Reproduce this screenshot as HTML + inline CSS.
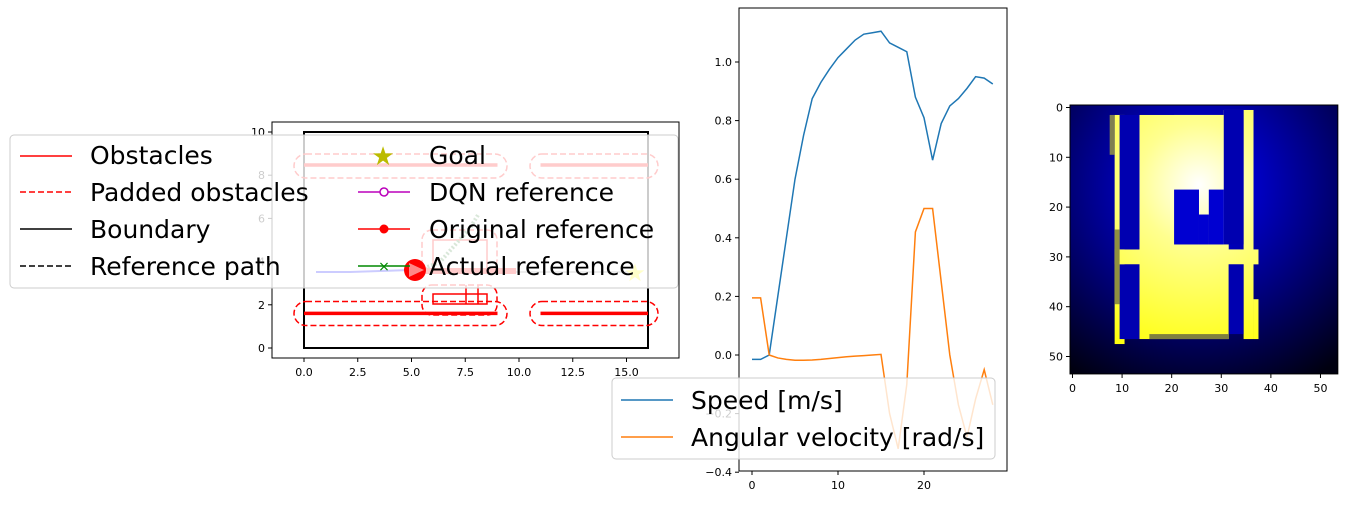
<!DOCTYPE html>
<html><head><meta charset="utf-8"><style>
html,body{margin:0;padding:0;background:#fff;width:1347px;height:505px;overflow:hidden}
svg{position:absolute;left:0;top:0}
text{font-family:"DejaVu Sans","Liberation Sans",sans-serif;}
</style></head><body>
<svg id="s" width="1347" height="505" viewBox="0 0 1347 505">
<g id="map">
<rect x="272" y="122" width="407" height="236" fill="#fff" stroke="#000" stroke-width="1"/>
<g id="mapTicks"></g>
<rect x="304" y="132" width="344" height="216" fill="none" stroke="#000" stroke-width="2"/>
<g>
<line x1="304" y1="313.4" x2="497.5" y2="313.4" stroke="#f00" stroke-width="3.5"/>
<line x1="540.5" y1="313.4" x2="648" y2="313.4" stroke="#f00" stroke-width="3.5"/>
<rect x="294" y="301.5" width="213" height="24" rx="12" fill="none" stroke="#f00" stroke-width="1.5" stroke-dasharray="6,3"/>
<rect x="530" y="301.5" width="128" height="24" rx="12" fill="none" stroke="#f00" stroke-width="1.5" stroke-dasharray="6,3"/>
<rect x="422" y="285" width="75" height="30" rx="10" fill="none" stroke="#f00" stroke-width="1.5" stroke-dasharray="6,3"/>
<rect x="433" y="294" width="54" height="10" fill="none" stroke="#f00" stroke-width="1.5"/>
<line x1="466" y1="285" x2="466" y2="304" stroke="#f00" stroke-width="1.5"/>
<line x1="478" y1="285" x2="478" y2="304" stroke="#f00" stroke-width="1.5"/>
</g>
<g>
<line x1="304" y1="165" x2="497.5" y2="165" stroke="#f00" stroke-width="3.5"/>
<line x1="540.5" y1="165" x2="648" y2="165" stroke="#f00" stroke-width="3.5"/>
<rect x="294" y="154" width="213" height="24" rx="12" fill="none" stroke="#f00" stroke-width="1.5" stroke-dasharray="6,3"/>
<rect x="530" y="154" width="128" height="24" rx="12" fill="none" stroke="#f00" stroke-width="1.5" stroke-dasharray="6,3"/>
<line x1="410" y1="271" x2="516" y2="271" stroke="#f00" stroke-width="6"/>
<rect x="422" y="230" width="75" height="40" rx="10" fill="none" stroke="#f00" stroke-width="1.5" stroke-dasharray="6,3"/>
<rect x="433" y="240" width="54" height="30" fill="none" stroke="#f00" stroke-width="1.5"/>
<polyline points="316,272 350,272 380,271 410,270" fill="none" stroke="#00f" stroke-width="2"/>
<polyline points="420,270 440,262 455,245 470,228 478,215" fill="none" stroke="#484" stroke-width="4" stroke-dasharray="2,2"/>
<line x1="516" y1="272" x2="635" y2="272" stroke="#888" stroke-width="1.5"/>
</g>
<rect x="10" y="135" width="668" height="153" rx="4" fill="#fff" fill-opacity="0.8" stroke="#ccc"/>
<circle cx="415" cy="270" r="11" fill="#f00"/>
<polygon points="409,263 424,270 409,277" fill="#f88"/>
<text x="635" y="281" font-size="24" fill="#ffffc8" text-anchor="middle">★</text>
<g font-size="25" fill="#000">
<line x1="20" y1="156" x2="72" y2="156" stroke="#f00" stroke-width="1.5"/><text x="90" y="164">Obstacles</text>
<line x1="20" y1="192" x2="72" y2="192" stroke="#f00" stroke-width="1.5" stroke-dasharray="6,3"/><text x="90" y="201">Padded obstacles</text>
<line x1="20" y1="229" x2="72" y2="229" stroke="#000" stroke-width="1.5"/><text x="90" y="238">Boundary</text>
<line x1="20" y1="266" x2="72" y2="266" stroke="#000" stroke-width="1.5" stroke-dasharray="6,3"/><text x="90" y="275">Reference path</text>
<text x="383" y="165" font-size="26" fill="#bb0" text-anchor="middle">★</text><text x="429" y="164">Goal</text>
<line x1="358" y1="192" x2="410" y2="192" stroke="#b0b" stroke-width="1.5"/><circle cx="384" cy="192" r="4" fill="#fff" stroke="#b0b" stroke-width="1.5"/><text x="429" y="201">DQN reference</text>
<line x1="358" y1="229" x2="410" y2="229" stroke="#f00" stroke-width="1.5"/><circle cx="384" cy="229" r="4.5" fill="#f00"/><text x="429" y="238">Original reference</text>
<line x1="358" y1="266" x2="410" y2="266" stroke="#080" stroke-width="1.5"/><text x="384" y="271" font-size="14" fill="#080" text-anchor="middle">×</text><text x="429" y="275">Actual reference</text>
</g>
</g>
<g id="mid">
<rect x="739" y="8" width="268" height="463" fill="none" stroke="#000"/>
<g id="midTicks"></g>
<g id="midLines"></g>
<rect x="612" y="378" width="383" height="81" rx="4" fill="#fff" fill-opacity="0.8" stroke="#ccc"/>
<line x1="621" y1="400" x2="673" y2="400" stroke="#1f77b4" stroke-width="1.5"/><text x="691" y="409" font-size="25">Speed [m/s]</text>
<line x1="621" y1="437" x2="673" y2="437" stroke="#ff7f0e" stroke-width="1.5"/><text x="691" y="446" font-size="25">Angular velocity [rad/s]</text>
</g>
<defs>
<radialGradient id="bg" cx="26" cy="16" r="45" gradientUnits="userSpaceOnUse"><stop offset="0" stop-color="#0000ff"/><stop offset="0.5" stop-color="#00008a"/><stop offset="1" stop-color="#000010"/></radialGradient>
<radialGradient id="yl" cx="26" cy="16" r="35" gradientUnits="userSpaceOnUse"><stop offset="0" stop-color="#ffffff"/><stop offset="0.35" stop-color="#ffff90"/><stop offset="1" stop-color="#ffff10"/></radialGradient>
</defs>
<g id="heat"></g>
<g id="heatTicks"></g>
</svg>
<script>
const speedX=[0,1,2,3,4,5,6,7,8,9,10,11,12,13,14,15,16,17,18,19,20,21,22,23,24,25,26,27,28];
const speedVals=[-0.015,-0.015,0.0,0.2,0.4,0.6,0.75,0.875,0.93,0.975,1.015,1.045,1.075,1.095,1.1,1.105,1.065,1.05,1.035,0.88,0.81,0.665,0.79,0.85,0.875,0.91,0.95,0.945,0.925];
const angVals=[0.195,0.195,0.0,-0.01,-0.015,-0.018,-0.018,-0.017,-0.015,-0.012,-0.009,-0.006,-0.004,-0.002,0.0,0.002,-0.2,-0.32,-0.1,0.42,0.5,0.5,0.25,0.0,-0.17,-0.28,-0.15,-0.05,-0.17];
const midYTicks=[-0.4,-0.2,0.0,0.2,0.4,0.6,0.8,1.0];
const midXTicks=[0,10,20];
const mapXTicks=[0,2.5,5,7.5,10,12.5,15];
const mapYTicks=[0,2,4,6,8,10];
const heatTicks=[0,10,20,30,40,50];
const NS='http://www.w3.org/2000/svg';
function mk(t,a,p){const e=document.createElementNS(NS,t);for(const k in a)e.setAttribute(k,a[k]);p.appendChild(e);return e;}
const mx=v=>752+v*8.6, my=v=>355-v*293;
const mt=document.getElementById('midTicks');
midYTicks.forEach(v=>{mk('line',{x1:735,x2:739,y1:my(v),y2:my(v),stroke:'#000'},mt);const t=mk('text',{x:732,y:my(v)+4,'font-size':11,'text-anchor':'end'},mt);t.textContent=v.toFixed(1).replace('-','\u2212');

});
midXTicks.forEach(v=>{mk('line',{x1:mx(v),x2:mx(v),y1:471,y2:475,stroke:'#000'},mt);const t=mk('text',{x:mx(v),y:489,'font-size':11,'text-anchor':'middle'},mt);t.textContent=v;

});
const ml=document.getElementById('midLines');
const sp=mk('polyline',{points:speedX.map((x,i)=>mx(x)+','+my(speedVals[i])).join(' '),fill:'none',stroke:'#1f77b4','stroke-width':1.5},ml);


const an=mk('polyline',{points:speedX.map((x,i)=>mx(x)+','+my(angVals[i])).join(' '),fill:'none',stroke:'#ff7f0e','stroke-width':1.5},ml);


const px=v=>304+v*21.5, py=v=>348-v*21.6;
const mpt=document.getElementById('mapTicks');
mapXTicks.forEach(v=>{mk('line',{x1:px(v),x2:px(v),y1:358,y2:362,stroke:'#000'},mpt);const t=mk('text',{x:px(v),y:376,'font-size':11,'text-anchor':'middle'},mpt);t.textContent=v.toFixed(1);

});
mapYTicks.forEach(v=>{mk('line',{x1:268,x2:272,y1:py(v),y2:py(v),stroke:'#000'},mpt);const t=mk('text',{x:265,y:py(v)+4,'font-size':11,'text-anchor':'end'},mpt);t.textContent=v;

});
const hx=v=>1070+(v+0.5)*4.96, hy=v=>105+(v+0.5)*4.98;
const h=document.getElementById('heat');
const g=mk('g',{transform:'translate(1070,105) scale(4.96,4.98)'},h);
mk('rect',{x:0,y:0,width:54,height:54,fill:'url(#bg)'},g);
const Y=[[9,2,2,46],[14,2,18,45],[21,2,10,15],[31,1,4,1],[35,1,2,46],[9,29,29,3],[26,17,2,5],[37,39,1,8]];
Y.forEach(r=>mk('rect',{x:r[0],y:r[1],width:r[2],height:r[3],fill:'url(#yl)'},g));
const D=[[10,2,4,27],[10,32,4,15],[31,1,4,27],[32,32,3,14],[21,17,5,11],[28,17,3,11],[26,22,2,6]];
D.forEach(r=>mk('rect',{x:r[0],y:r[1],width:r[2],height:r[3],fill:'#0000b0'},g));
mk('rect',{x:21,y:17,width:5,height:11,fill:'#0000e0',opacity:0.7},g);
mk('rect',{x:28,y:17,width:3,height:11,fill:'#0000e0',opacity:0.7},g);
mk('rect',{x:26,y:22,width:2,height:6,fill:'#0000e0',opacity:0.7},g);
mk('rect',{x:16,y:46,width:16,height:1,fill:'#808040'},g);
mk('rect',{x:8,y:2,width:1,height:8,fill:'#808050'},g);
mk('rect',{x:9,y:25,width:1,height:15,fill:'#909040'},g);
mk('rect',{x:0,y:0,width:54,height:54,fill:'none',stroke:'#000','stroke-width':0.2},g);
const ht=document.getElementById('heatTicks');
heatTicks.forEach(v=>{mk('line',{x1:hx(v),x2:hx(v),y1:374,y2:378,stroke:'#000'},ht);const t=mk('text',{x:hx(v),y:392,'font-size':11,'text-anchor':'middle'},ht);t.textContent=v;


mk('line',{x1:1066,x2:1070,y1:hy(v),y2:hy(v),stroke:'#000'},ht);const u=mk('text',{x:1063,y:hy(v)+4,'font-size':11,'text-anchor':'end'},ht);u.textContent=v;

});
</script>
</body></html>
